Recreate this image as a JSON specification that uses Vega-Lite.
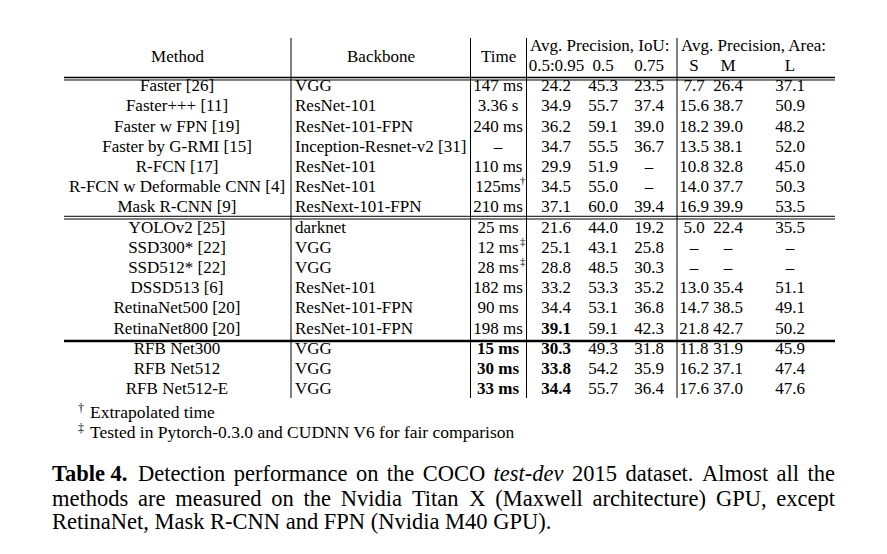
{
  "$schema": "https://vega.github.io/schema/vega-lite/v6.json",
  "width": 887,
  "height": 554,
  "padding": 0,
  "autosize": {"type": "none"},
  "background": "white",
  "config": {
    "view": {"stroke": null},
    "text": {"font": "Liberation Serif", "fontSize": 17, "color": "#000", "baseline": "middle"},
    "rule": {"color": "#000", "strokeWidth": 1}
  },
  "datasets": {
    "table": [
      {"method": "Faster [26]", "backbone": "VGG", "time": "147 ms", "sup": "", "ap": "24.2", "ap50": "45.3", "ap75": "23.5", "s": "7.7", "m": "26.4", "l": "37.1"},
      {"method": "Faster+++ [11]", "backbone": "ResNet-101", "time": "3.36 s", "sup": "", "ap": "34.9", "ap50": "55.7", "ap75": "37.4", "s": "15.6", "m": "38.7", "l": "50.9"},
      {"method": "Faster w FPN [19]", "backbone": "ResNet-101-FPN", "time": "240 ms", "sup": "", "ap": "36.2", "ap50": "59.1", "ap75": "39.0", "s": "18.2", "m": "39.0", "l": "48.2"},
      {"method": "Faster by G-RMI [15]", "backbone": "Inception-Resnet-v2 [31]", "time": "–", "sup": "", "ap": "34.7", "ap50": "55.5", "ap75": "36.7", "s": "13.5", "m": "38.1", "l": "52.0"},
      {"method": "R-FCN [17]", "backbone": "ResNet-101", "time": "110 ms", "sup": "", "ap": "29.9", "ap50": "51.9", "ap75": "–", "s": "10.8", "m": "32.8", "l": "45.0"},
      {"method": "R-FCN w Deformable CNN [4]", "backbone": "ResNet-101", "time": "125ms", "sup": "†", "ap": "34.5", "ap50": "55.0", "ap75": "–", "s": "14.0", "m": "37.7", "l": "50.3"},
      {"method": "Mask R-CNN [9]", "backbone": "ResNext-101-FPN", "time": "210 ms", "sup": "", "ap": "37.1", "ap50": "60.0", "ap75": "39.4", "s": "16.9", "m": "39.9", "l": "53.5"},
      {"method": "YOLOv2 [25]", "backbone": "darknet", "time": "25 ms", "sup": "", "ap": "21.6", "ap50": "44.0", "ap75": "19.2", "s": "5.0", "m": "22.4", "l": "35.5"},
      {"method": "SSD300* [22]", "backbone": "VGG", "time": "12 ms", "sup": "‡", "ap": "25.1", "ap50": "43.1", "ap75": "25.8", "s": "–", "m": "–", "l": "–"},
      {"method": "SSD512* [22]", "backbone": "VGG", "time": "28 ms", "sup": "‡", "ap": "28.8", "ap50": "48.5", "ap75": "30.3", "s": "–", "m": "–", "l": "–"},
      {"method": "DSSD513 [6]", "backbone": "ResNet-101", "time": "182 ms", "sup": "", "ap": "33.2", "ap50": "53.3", "ap75": "35.2", "s": "13.0", "m": "35.4", "l": "51.1"},
      {"method": "RetinaNet500 [20]", "backbone": "ResNet-101-FPN", "time": "90 ms", "sup": "", "ap": "34.4", "ap50": "53.1", "ap75": "36.8", "s": "14.7", "m": "38.5", "l": "49.1"},
      {"method": "RetinaNet800 [20]", "backbone": "ResNet-101-FPN", "time": "198 ms", "sup": "", "ap": "39.1", "ap50": "59.1", "ap75": "42.3", "s": "21.8", "m": "42.7", "l": "50.2"},
      {"method": "RFB Net300", "backbone": "VGG", "time": "15 ms", "sup": "", "ap": "30.3", "ap50": "49.3", "ap75": "31.8", "s": "11.8", "m": "31.9", "l": "45.9"},
      {"method": "RFB Net512", "backbone": "VGG", "time": "30 ms", "sup": "", "ap": "33.8", "ap50": "54.2", "ap75": "35.9", "s": "16.2", "m": "37.1", "l": "47.4"},
      {"method": "RFB Net512-E", "backbone": "VGG", "time": "33 ms", "sup": "", "ap": "34.4", "ap50": "55.7", "ap75": "36.4", "s": "17.6", "m": "37.0", "l": "47.6"}
    ]
  },
  "layer": [
    {
      "data": {"name": "table"},
      "transform": [{"window": [{"op": "row_number", "as": "r"}]}],
      "encoding": {
        "y": {"field": "r", "type": "quantitative", "axis": null, "scale": {"domain": [-3.26733, 24.15842], "range": [0, 554], "nice": false, "zero": false}}
      },
      "layer": [
        {"mark": {"type": "text", "align": "center"}, "encoding": {"text": {"field": "method"}, "x": {"datum": 177, "type": "quantitative", "axis": null, "scale": {"domain": [0, 887], "nice": false, "zero": false}}}},
        {"mark": {"type": "text", "align": "left"}, "encoding": {"text": {"field": "backbone"}, "x": {"datum": 295, "type": "quantitative", "axis": null, "scale": {"domain": [0, 887], "nice": false, "zero": false}}}},
        {"mark": {"type": "text", "align": "center", "fontWeight": {"expr": "datum.r >= 14 ? 'bold' : 'normal'"}}, "encoding": {"text": {"field": "time"}, "x": {"datum": 498, "type": "quantitative", "axis": null, "scale": {"domain": [0, 887], "nice": false, "zero": false}}}},
        {"transform": [{"filter": "datum.sup != ''"}], "mark": {"type": "text", "align": "left", "fontSize": 11, "dy": -6}, "encoding": {"text": {"field": "sup"}, "x": {"datum": 520, "type": "quantitative", "axis": null, "scale": {"domain": [0, 887], "nice": false, "zero": false}}}},
        {"mark": {"type": "text", "align": "center", "fontWeight": {"expr": "(datum.r >= 14 || datum.ap == '39.1') ? 'bold' : 'normal'"}}, "encoding": {"text": {"field": "ap"}, "x": {"datum": 556, "type": "quantitative", "axis": null, "scale": {"domain": [0, 887], "nice": false, "zero": false}}}},
        {"mark": {"type": "text", "align": "center"}, "encoding": {"text": {"field": "ap50"}, "x": {"datum": 603, "type": "quantitative", "axis": null, "scale": {"domain": [0, 887], "nice": false, "zero": false}}}},
        {"mark": {"type": "text", "align": "center"}, "encoding": {"text": {"field": "ap75"}, "x": {"datum": 649, "type": "quantitative", "axis": null, "scale": {"domain": [0, 887], "nice": false, "zero": false}}}},
        {"mark": {"type": "text", "align": "center"}, "encoding": {"text": {"field": "s"}, "x": {"datum": 694, "type": "quantitative", "axis": null, "scale": {"domain": [0, 887], "nice": false, "zero": false}}}},
        {"mark": {"type": "text", "align": "center"}, "encoding": {"text": {"field": "m"}, "x": {"datum": 728, "type": "quantitative", "axis": null, "scale": {"domain": [0, 887], "nice": false, "zero": false}}}},
        {"mark": {"type": "text", "align": "center"}, "encoding": {"text": {"field": "l"}, "x": {"datum": 790, "type": "quantitative", "axis": null, "scale": {"domain": [0, 887], "nice": false, "zero": false}}}}
      ]
    },
    {
      "data": {"values": [
        {"label": "Method", "col": "method"},
        {"label": "Backbone", "col": "backbone"},
        {"label": "Time", "col": "time"}
      ]},
      "encoding": {"y": {"datum": -0.4455, "type": "quantitative", "axis": null, "scale": {"domain": [-3.26733, 24.15842], "range": [0, 554], "nice": false, "zero": false}}},
      "layer": [
        {"transform": [{"filter": "datum.col == 'method'"}], "mark": {"type": "text", "align": "center"}, "encoding": {"text": {"field": "label"}, "x": {"datum": 177.5, "type": "quantitative", "axis": null, "scale": {"domain": [0, 887], "nice": false, "zero": false}}}},
        {"transform": [{"filter": "datum.col == 'backbone'"}], "mark": {"type": "text", "align": "center"}, "encoding": {"text": {"field": "label"}, "x": {"datum": 381, "type": "quantitative", "axis": null, "scale": {"domain": [0, 887], "nice": false, "zero": false}}}},
        {"transform": [{"filter": "datum.col == 'time'"}], "mark": {"type": "text", "align": "center"}, "encoding": {"text": {"field": "label"}, "x": {"datum": 498.7, "type": "quantitative", "axis": null, "scale": {"domain": [0, 887], "nice": false, "zero": false}}}}
      ]
    },
    {
      "data": {"values": [{}]},
      "layer": [
        {"mark": {"type": "text", "align": "left", "text": "Avg. Precision, IoU:"}, "encoding": {"x": {"datum": 530, "type": "quantitative", "axis": null, "scale": {"domain": [0, 887], "nice": false, "zero": false}}, "y": {"datum": -0.99, "type": "quantitative", "axis": null, "scale": {"domain": [-3.26733, 24.15842], "range": [0, 554], "nice": false, "zero": false}}}},
        {"mark": {"type": "text", "align": "left", "text": "Avg. Precision, Area:"}, "encoding": {"x": {"datum": 681, "type": "quantitative", "axis": null, "scale": {"domain": [0, 887], "nice": false, "zero": false}}, "y": {"datum": -0.99, "type": "quantitative", "axis": null, "scale": {"domain": [-3.26733, 24.15842], "range": [0, 554], "nice": false, "zero": false}}}},
        {"mark": {"type": "text", "align": "center", "text": "0.5:0.95"}, "encoding": {"x": {"datum": 556.5, "type": "quantitative", "axis": null, "scale": {"domain": [0, 887], "nice": false, "zero": false}}, "y": {"datum": 0, "type": "quantitative", "axis": null, "scale": {"domain": [-3.26733, 24.15842], "range": [0, 554], "nice": false, "zero": false}}}},
        {"mark": {"type": "text", "align": "center", "text": "0.5"}, "encoding": {"x": {"datum": 603, "type": "quantitative", "axis": null, "scale": {"domain": [0, 887], "nice": false, "zero": false}}, "y": {"datum": 0, "type": "quantitative", "axis": null, "scale": {"domain": [-3.26733, 24.15842], "range": [0, 554], "nice": false, "zero": false}}}},
        {"mark": {"type": "text", "align": "center", "text": "0.75"}, "encoding": {"x": {"datum": 649, "type": "quantitative", "axis": null, "scale": {"domain": [0, 887], "nice": false, "zero": false}}, "y": {"datum": 0, "type": "quantitative", "axis": null, "scale": {"domain": [-3.26733, 24.15842], "range": [0, 554], "nice": false, "zero": false}}}},
        {"mark": {"type": "text", "align": "center", "text": "S"}, "encoding": {"x": {"datum": 694, "type": "quantitative", "axis": null, "scale": {"domain": [0, 887], "nice": false, "zero": false}}, "y": {"datum": 0, "type": "quantitative", "axis": null, "scale": {"domain": [-3.26733, 24.15842], "range": [0, 554], "nice": false, "zero": false}}}},
        {"mark": {"type": "text", "align": "center", "text": "M"}, "encoding": {"x": {"datum": 728, "type": "quantitative", "axis": null, "scale": {"domain": [0, 887], "nice": false, "zero": false}}, "y": {"datum": 0, "type": "quantitative", "axis": null, "scale": {"domain": [-3.26733, 24.15842], "range": [0, 554], "nice": false, "zero": false}}}},
        {"mark": {"type": "text", "align": "center", "text": "L"}, "encoding": {"x": {"datum": 790, "type": "quantitative", "axis": null, "scale": {"domain": [0, 887], "nice": false, "zero": false}}, "y": {"datum": 0, "type": "quantitative", "axis": null, "scale": {"domain": [-3.26733, 24.15842], "range": [0, 554], "nice": false, "zero": false}}}},
        {"mark": {"type": "rule", "strokeWidth": 1.5}, "encoding": {"x": {"datum": 64, "type": "quantitative", "axis": null, "scale": {"domain": [0, 887], "nice": false, "zero": false}}, "x2": {"datum": 835}, "y": {"datum": 0.569, "type": "quantitative", "axis": null, "scale": {"domain": [-3.26733, 24.15842], "range": [0, 554], "nice": false, "zero": false}}}},
        {"mark": {"type": "rule", "strokeWidth": 1}, "encoding": {"x": {"datum": 64, "type": "quantitative", "axis": null, "scale": {"domain": [0, 887], "nice": false, "zero": false}}, "x2": {"datum": 835}, "y": {"datum": 0.693, "type": "quantitative", "axis": null, "scale": {"domain": [-3.26733, 24.15842], "range": [0, 554], "nice": false, "zero": false}}}},
        {"mark": {"type": "rule", "strokeWidth": 1}, "encoding": {"x": {"datum": 64, "type": "quantitative", "axis": null, "scale": {"domain": [0, 887], "nice": false, "zero": false}}, "x2": {"datum": 835}, "y": {"datum": 7.44, "type": "quantitative", "axis": null, "scale": {"domain": [-3.26733, 24.15842], "range": [0, 554], "nice": false, "zero": false}}}},
        {"mark": {"type": "rule", "strokeWidth": 1}, "encoding": {"x": {"datum": 64, "type": "quantitative", "axis": null, "scale": {"domain": [0, 887], "nice": false, "zero": false}}, "x2": {"datum": 835}, "y": {"datum": 7.574, "type": "quantitative", "axis": null, "scale": {"domain": [-3.26733, 24.15842], "range": [0, 554], "nice": false, "zero": false}}}},
        {"mark": {"type": "rule", "strokeWidth": 2.5}, "encoding": {"x": {"datum": 64, "type": "quantitative", "axis": null, "scale": {"domain": [0, 887], "nice": false, "zero": false}}, "x2": {"datum": 835}, "y": {"datum": 13.614, "type": "quantitative", "axis": null, "scale": {"domain": [-3.26733, 24.15842], "range": [0, 554], "nice": false, "zero": false}}}},
        {"mark": {"type": "rule", "strokeWidth": 1}, "encoding": {"x": {"datum": 291, "type": "quantitative", "axis": null, "scale": {"domain": [0, 887], "nice": false, "zero": false}}, "y": {"datum": -1.386, "type": "quantitative", "axis": null, "scale": {"domain": [-3.26733, 24.15842], "range": [0, 554], "nice": false, "zero": false}}, "y2": {"datum": 16.436}}},
        {"mark": {"type": "rule", "strokeWidth": 1}, "encoding": {"x": {"datum": 470.5, "type": "quantitative", "axis": null, "scale": {"domain": [0, 887], "nice": false, "zero": false}}, "y": {"datum": -1.386, "type": "quantitative", "axis": null, "scale": {"domain": [-3.26733, 24.15842], "range": [0, 554], "nice": false, "zero": false}}, "y2": {"datum": 16.436}}},
        {"mark": {"type": "rule", "strokeWidth": 1}, "encoding": {"x": {"datum": 526.5, "type": "quantitative", "axis": null, "scale": {"domain": [0, 887], "nice": false, "zero": false}}, "y": {"datum": -1.386, "type": "quantitative", "axis": null, "scale": {"domain": [-3.26733, 24.15842], "range": [0, 554], "nice": false, "zero": false}}, "y2": {"datum": 16.436}}},
        {"mark": {"type": "rule", "strokeWidth": 1}, "encoding": {"x": {"datum": 677, "type": "quantitative", "axis": null, "scale": {"domain": [0, 887], "nice": false, "zero": false}}, "y": {"datum": -1.386, "type": "quantitative", "axis": null, "scale": {"domain": [-3.26733, 24.15842], "range": [0, 554], "nice": false, "zero": false}}, "y2": {"datum": 16.436}}},
        {"mark": {"type": "text", "align": "left", "text": "†", "fontSize": 12}, "encoding": {"x": {"datum": 78, "type": "quantitative", "axis": null, "scale": {"domain": [0, 887], "nice": false, "zero": false}}, "y": {"datum": 16.93, "type": "quantitative", "axis": null, "scale": {"domain": [-3.26733, 24.15842], "range": [0, 554], "nice": false, "zero": false}}}},
        {"mark": {"type": "text", "align": "left", "text": "Extrapolated time", "fontSize": 17.5}, "encoding": {"x": {"datum": 90, "type": "quantitative", "axis": null, "scale": {"domain": [0, 887], "nice": false, "zero": false}}, "y": {"datum": 17.178, "type": "quantitative", "axis": null, "scale": {"domain": [-3.26733, 24.15842], "range": [0, 554], "nice": false, "zero": false}}}},
        {"mark": {"type": "text", "align": "left", "text": "‡", "fontSize": 12}, "encoding": {"x": {"datum": 78, "type": "quantitative", "axis": null, "scale": {"domain": [0, 887], "nice": false, "zero": false}}, "y": {"datum": 17.92, "type": "quantitative", "axis": null, "scale": {"domain": [-3.26733, 24.15842], "range": [0, 554], "nice": false, "zero": false}}}},
        {"mark": {"type": "text", "align": "left", "text": "Tested in Pytorch-0.3.0 and CUDNN V6 for fair comparison", "fontSize": 17.5}, "encoding": {"x": {"datum": 90, "type": "quantitative", "axis": null, "scale": {"domain": [0, 887], "nice": false, "zero": false}}, "y": {"datum": 18.168, "type": "quantitative", "axis": null, "scale": {"domain": [-3.26733, 24.15842], "range": [0, 554], "nice": false, "zero": false}}}}
      ]
    },
    {
      "data": {"values": [{}]},
      "encoding": {"y": {"datum": 20.198, "type": "quantitative", "axis": null, "scale": {"domain": [-3.26733, 24.15842], "range": [0, 554], "nice": false, "zero": false}}},
      "layer": [
        {"mark": {"type": "text", "align": "left", "text": "Table 4.", "fontSize": 22.5, "fontWeight": "bold"}, "encoding": {"x": {"datum": 52, "type": "quantitative", "axis": null, "scale": {"domain": [0, 887], "nice": false, "zero": false}}}},
        {"mark": {"type": "text", "align": "left", "text": "Detection", "fontSize": 22.5}, "encoding": {"x": {"datum": 137.9, "type": "quantitative", "axis": null, "scale": {"domain": [0, 887], "nice": false, "zero": false}}}},
        {"mark": {"type": "text", "align": "left", "text": "performance", "fontSize": 22.5}, "encoding": {"x": {"datum": 233.8, "type": "quantitative", "axis": null, "scale": {"domain": [0, 887], "nice": false, "zero": false}}}},
        {"mark": {"type": "text", "align": "left", "text": "on", "fontSize": 22.5}, "encoding": {"x": {"datum": 355.9, "type": "quantitative", "axis": null, "scale": {"domain": [0, 887], "nice": false, "zero": false}}}},
        {"mark": {"type": "text", "align": "left", "text": "the", "fontSize": 22.5}, "encoding": {"x": {"datum": 386.8, "type": "quantitative", "axis": null, "scale": {"domain": [0, 887], "nice": false, "zero": false}}}},
        {"mark": {"type": "text", "align": "left", "text": "COCO", "fontSize": 22.5}, "encoding": {"x": {"datum": 422.7, "type": "quantitative", "axis": null, "scale": {"domain": [0, 887], "nice": false, "zero": false}}}},
        {"mark": {"type": "text", "align": "left", "text": "test-dev", "fontSize": 22.5, "fontStyle": "italic"}, "encoding": {"x": {"datum": 493.6, "type": "quantitative", "axis": null, "scale": {"domain": [0, 887], "nice": false, "zero": false}}}},
        {"mark": {"type": "text", "align": "left", "text": "2015", "fontSize": 22.5}, "encoding": {"x": {"datum": 572.0, "type": "quantitative", "axis": null, "scale": {"domain": [0, 887], "nice": false, "zero": false}}}},
        {"mark": {"type": "text", "align": "left", "text": "dataset.", "fontSize": 22.5}, "encoding": {"x": {"datum": 625.4, "type": "quantitative", "axis": null, "scale": {"domain": [0, 887], "nice": false, "zero": false}}}},
        {"mark": {"type": "text", "align": "left", "text": "Almost", "fontSize": 22.5}, "encoding": {"x": {"datum": 701.9, "type": "quantitative", "axis": null, "scale": {"domain": [0, 887], "nice": false, "zero": false}}}},
        {"mark": {"type": "text", "align": "left", "text": "all", "fontSize": 22.5}, "encoding": {"x": {"datum": 776.6, "type": "quantitative", "axis": null, "scale": {"domain": [0, 887], "nice": false, "zero": false}}}},
        {"mark": {"type": "text", "align": "right", "text": "the", "fontSize": 22.5}, "encoding": {"x": {"datum": 835, "type": "quantitative", "axis": null, "scale": {"domain": [0, 887], "nice": false, "zero": false}}}}
      ]
    },
    {
      "data": {"values": [{}]},
      "encoding": {"y": {"datum": 21.436, "type": "quantitative", "axis": null, "scale": {"domain": [-3.26733, 24.15842], "range": [0, 554], "nice": false, "zero": false}}},
      "layer": [
        {"mark": {"type": "text", "align": "left", "text": "methods", "fontSize": 22.5}, "encoding": {"x": {"datum": 52, "type": "quantitative", "axis": null, "scale": {"domain": [0, 887], "nice": false, "zero": false}}}},
        {"mark": {"type": "text", "align": "left", "text": "are", "fontSize": 22.5}, "encoding": {"x": {"datum": 138.0, "type": "quantitative", "axis": null, "scale": {"domain": [0, 887], "nice": false, "zero": false}}}},
        {"mark": {"type": "text", "align": "left", "text": "measured", "fontSize": 22.5}, "encoding": {"x": {"datum": 175.3, "type": "quantitative", "axis": null, "scale": {"domain": [0, 887], "nice": false, "zero": false}}}},
        {"mark": {"type": "text", "align": "left", "text": "on", "fontSize": 22.5}, "encoding": {"x": {"datum": 271.3, "type": "quantitative", "axis": null, "scale": {"domain": [0, 887], "nice": false, "zero": false}}}},
        {"mark": {"type": "text", "align": "left", "text": "the", "fontSize": 22.5}, "encoding": {"x": {"datum": 303.6, "type": "quantitative", "axis": null, "scale": {"domain": [0, 887], "nice": false, "zero": false}}}},
        {"mark": {"type": "text", "align": "left", "text": "Nvidia", "fontSize": 22.5}, "encoding": {"x": {"datum": 340.8, "type": "quantitative", "axis": null, "scale": {"domain": [0, 887], "nice": false, "zero": false}}}},
        {"mark": {"type": "text", "align": "left", "text": "Titan", "fontSize": 22.5}, "encoding": {"x": {"datum": 411.9, "type": "quantitative", "axis": null, "scale": {"domain": [0, 887], "nice": false, "zero": false}}}},
        {"mark": {"type": "text", "align": "left", "text": "X", "fontSize": 22.5}, "encoding": {"x": {"datum": 469.2, "type": "quantitative", "axis": null, "scale": {"domain": [0, 887], "nice": false, "zero": false}}}},
        {"mark": {"type": "text", "align": "left", "text": "(Maxwell", "fontSize": 22.5}, "encoding": {"x": {"datum": 495.2, "type": "quantitative", "axis": null, "scale": {"domain": [0, 887], "nice": false, "zero": false}}}},
        {"mark": {"type": "text", "align": "left", "text": "architecture)", "fontSize": 22.5}, "encoding": {"x": {"datum": 592.4, "type": "quantitative", "axis": null, "scale": {"domain": [0, 887], "nice": false, "zero": false}}}},
        {"mark": {"type": "text", "align": "left", "text": "GPU,", "fontSize": 22.5}, "encoding": {"x": {"datum": 715.9, "type": "quantitative", "axis": null, "scale": {"domain": [0, 887], "nice": false, "zero": false}}}},
        {"mark": {"type": "text", "align": "right", "text": "except", "fontSize": 22.5}, "encoding": {"x": {"datum": 835, "type": "quantitative", "axis": null, "scale": {"domain": [0, 887], "nice": false, "zero": false}}}}
      ]
    },
    {
      "data": {"values": [{}]},
      "mark": {"type": "text", "align": "left", "text": "RetinaNet, Mask R-CNN and FPN (Nvidia M40 GPU).", "fontSize": 22.5},
      "encoding": {
        "x": {"datum": 52, "type": "quantitative", "axis": null, "scale": {"domain": [0, 887], "nice": false, "zero": false}},
        "y": {"datum": 22.574, "type": "quantitative", "axis": null, "scale": {"domain": [-3.26733, 24.15842], "range": [0, 554], "nice": false, "zero": false}}
      }
    }
  ]
}
